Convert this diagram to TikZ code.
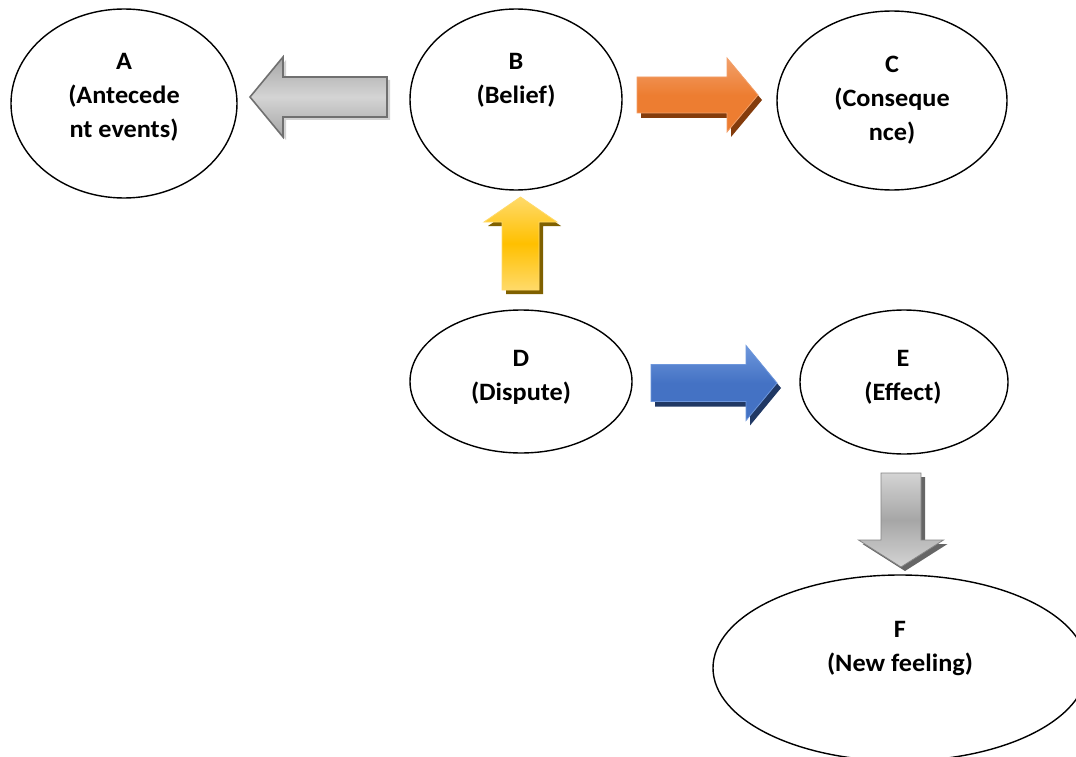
\documentclass[tikz,border=0pt]{standalone}
\usepackage{fontspec}
\newfontfamily\lblfont{Carlito}[FakeStretch=1.05]
\usetikzlibrary{calc,shapes.geometric}
\definecolor{orA}{HTML}{ED7D31}
\definecolor{orL}{HTML}{F2A06A}
\definecolor{orS}{HTML}{843C0C}
\definecolor{yeA}{HTML}{FFC000}
\definecolor{yeL}{HTML}{FFDA6A}
\definecolor{yeS}{HTML}{7F6000}
\definecolor{blA}{HTML}{4472C4}
\definecolor{blL}{HTML}{6E97DC}
\definecolor{blS}{HTML}{203864}
\definecolor{grD}{HTML}{707070}
\definecolor{grM}{HTML}{A6A6A6}
\definecolor{grL}{HTML}{D4D4D4}
\tikzset{
  ell/.style={ellipse, draw=black, line width=1.4pt, inner sep=0pt},
  txt/.style={align=center, inner sep=0pt, font={\lblfont\bfseries\fontsize{25}{34}\selectfont}},
  greyarrow/.style={draw=grD, line width=1.6pt, top color=grM, bottom color=grM, middle color=grL},
  greyshadow/.style={fill=gray!35},
  orangearrow/.style={draw=orL, line width=0.8pt, top color=orL, bottom color=orA, middle color=orA},
  orangeshadow/.style={fill=orS},
  yellowarrow/.style={draw=yeL, line width=0.8pt, top color=yeL, bottom color=yeL, middle color=yeA},
  yellowshadow/.style={fill=yeS},
  bluearrow/.style={draw=blL, line width=0.8pt, top color=blL, bottom color=blA, middle color=blA},
  blueshadow/.style={fill=blS},
  downarrow/.style={draw=grM!80!black, line width=0.8pt, top color=grL, bottom color=grL, middle color=grM},
  downshadow/.style={fill=gray!80!black},
}
% #1 tail, #2 tip (coordinate expressions), #3 shaft half width, #4 head half width, #5 head length, #6 style
\newcommand\blockarrow[6]{%
  \coordinate (bt) at #1;
  \coordinate (bh) at #2;
  \coordinate (hb) at ($(bh)!#5!(bt)$);
  \path[#6] ($(bt)!#3!90:(bh)$) -- ($(hb)!#3!90:(bh)$) -- ($(hb)!#4!90:(bh)$)
    -- (bh) -- ($(hb)!#4!-90:(bh)$) -- ($(hb)!#3!-90:(bh)$) -- ($(bt)!#3!-90:(bh)$) -- cycle;
}
\begin{document}
\begin{tikzpicture}[x=1pt,y=-1pt]
\useasboundingbox (0,0) rectangle (1076,757);
\fill[white] (0,0) rectangle (1076,757);

% ellipses
\node[ell, minimum width=226pt, minimum height=189pt] (A) at (124,103.5) {};
\node[ell, minimum width=212pt, minimum height=181pt] (B) at (516,99.5) {};
\node[ell, minimum width=230pt, minimum height=179pt] (C) at (892,100.5) {};
\node[ell, minimum width=222pt, minimum height=143pt] (D) at (521,381.5) {};
\node[ell, minimum width=208pt, minimum height=144pt] (E) at (904,382) {};
\node[ell, minimum width=374pt, minimum height=186pt] (F) at (900,668) {};

% texts
\node[txt] (At) at (124,97) {A\\(Antecede\\nt events)};
\node[txt] (Bt) at (516,80) {B\\(Belief)};
\node[txt] (Ct) at (892,100) {C\\(Conseque\\nce)};
\node[txt] (Dt) at (521,377) {D\\(Dispute)};
\node[txt] (Et) at (903,377) {E\\(Effect)};
\node[txt] (Ft) at (900,649) {F\\(New feeling)};

% arrow end points
\coordinate (BAtail) at (387,97);
\coordinate (BAtip) at (250,97);
\coordinate (BCtail) at (637,95);
\coordinate (BCtip) at (758,95);
\coordinate (DBtail) at (520.5,290);
\coordinate (DBtip) at (520.5,197);
\coordinate (DEtail) at (651,383);
\coordinate (DEtip) at (777,383);
\coordinate (EFtail) at (901,473);
\coordinate (EFtip) at (901,567);

% B -> A (grey)
\blockarrow{($(BAtail)+(3,3)$)}{($(BAtip)+(3,3)$)}{20pt}{40pt}{33pt}{greyshadow}
\blockarrow{(BAtail)}{(BAtip)}{20pt}{40pt}{33pt}{greyarrow}
% B -> C (orange)
\blockarrow{($(BCtail)+(4,5)$)}{($(BCtip)+(4,5)$)}{18pt}{37pt}{31pt}{orangeshadow}
\blockarrow{(BCtail)}{(BCtip)}{18pt}{37pt}{31pt}{orangearrow}
% D -> B (yellow)
\blockarrow{($(DBtail)+(4,4)$)}{($(DBtip)+(4,4)$)}{18.5pt}{36.5pt}{25pt}{yellowshadow}
\blockarrow{(DBtail)}{(DBtip)}{18.5pt}{36.5pt}{25pt}{yellowarrow}
% D -> E (blue)
\blockarrow{($(DEtail)+(4,5)$)}{($(DEtip)+(4,5)$)}{18.5pt}{37.5pt}{31pt}{blueshadow}
\blockarrow{(DEtail)}{(DEtip)}{18.5pt}{37.5pt}{31pt}{bluearrow}
% E -> F (grey down)
\blockarrow{($(EFtail)+(4,4)$)}{($(EFtip)+(4,4)$)}{20pt}{42.5pt}{27pt}{downshadow}
\blockarrow{(EFtail)}{(EFtip)}{20pt}{42.5pt}{27pt}{downarrow}
\end{tikzpicture}
\end{document}
